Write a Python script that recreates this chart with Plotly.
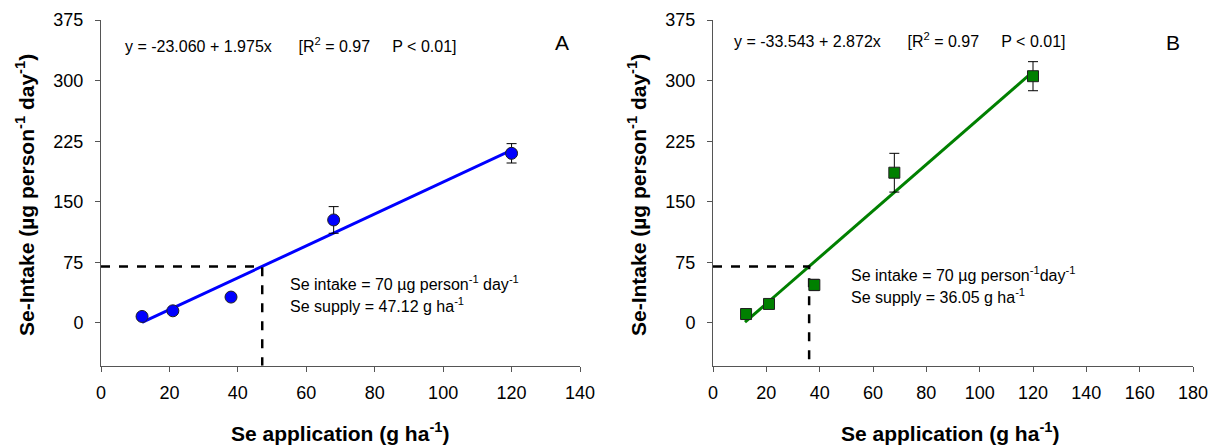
import plotly.graph_objects as go

# Panel A data
xA = [12, 21, 38, 68, 120]
yA = [8, 15, 32, 127.5, 210]
eA = [3, 3, 3, 16.5, 12]
# Panel B data
xB = [12.4, 21, 38, 68, 120]
yB = [11, 23.5, 47, 186, 305.5]
eB = [4, 4, 7, 24, 18]

# regressions
intA, slopeA = -23.060, 1.975
intB, slopeB = -33.543, 2.872
fit_x = [12, 120]
target = 70
supplyA = 47.12
supplyB = 36.05

ymin, ymax = -53, 375
yticks = [0, 75, 150, 225, 300, 375]

FONT = "Liberation Sans, Arial, sans-serif"
fig = go.Figure()

# Panel A
fig.add_trace(go.Scatter(x=fit_x, y=[intA + slopeA * v for v in fit_x], mode="lines",
                         line=dict(color="#0000FF", width=3), xaxis="x", yaxis="y", showlegend=False))
fig.add_trace(go.Scatter(x=[0, supplyA, supplyA], y=[target, target, ymin], mode="lines",
                         line=dict(color="black", width=2.5, dash="dash"), xaxis="x", yaxis="y", showlegend=False))
fig.add_trace(go.Scatter(x=xA, y=yA, mode="markers",
                         error_y=dict(type="data", array=eA, color="black", thickness=1, width=5),
                         marker=dict(symbol="circle", size=12, color="#0000FF", line=dict(color="#202020", width=1)),
                         xaxis="x", yaxis="y", showlegend=False))

# Panel B
fig.add_trace(go.Scatter(x=fit_x, y=[intB + slopeB * v for v in fit_x], mode="lines",
                         line=dict(color="#008000", width=3), xaxis="x2", yaxis="y2", showlegend=False))
fig.add_trace(go.Scatter(x=[0, supplyB, supplyB], y=[target, target, ymin], mode="lines",
                         line=dict(color="black", width=2.5, dash="dash"), xaxis="x2", yaxis="y2", showlegend=False))
fig.add_trace(go.Scatter(x=xB, y=yB, mode="markers",
                         error_y=dict(type="data", array=eB, color="black", thickness=1, width=5),
                         marker=dict(symbol="square", size=11, color="#008000", line=dict(color="#202020", width=1)),
                         xaxis="x2", yaxis="y2", showlegend=False))

axis_common = dict(showgrid=False, zeroline=False, showline=True, linecolor="#555555", linewidth=1,
                   ticks="outside", ticklen=5, tickcolor="#555555", automargin=False,
                   tickfont=dict(family=FONT, size=18, color="black"))

fig.update_layout(
    width=1222, height=446, autosize=False,
    margin=dict(l=0, r=0, t=0, b=0, pad=0),
    plot_bgcolor="white", paper_bgcolor="white",
    xaxis=dict(domain=[101 / 1222, 580 / 1222], range=[0, 140], tickvals=list(range(0, 141, 20)),
               anchor="y", ticklabelstandoff=6, **axis_common),
    yaxis=dict(domain=[0.18, 0.955], range=[ymin, ymax], tickvals=yticks, anchor="x",
               ticklabelstandoff=8, **axis_common),
    xaxis2=dict(domain=[713 / 1222, 1193 / 1222], range=[0, 180], tickvals=list(range(0, 181, 20)),
                anchor="y2", ticklabelstandoff=6, **axis_common),
    yaxis2=dict(domain=[0.18, 0.955], range=[ymin, ymax], tickvals=yticks, anchor="x2",
                ticklabelstandoff=8, **axis_common),
)

sp = "\u00a0"
ann = []
def txt(x, y, text, size=16, xanchor="left"):
    ann.append(dict(x=x / 1222, y=1 - y / 446, text=text, xref="paper", yref="paper", showarrow=False,
                    xanchor=xanchor, yanchor="middle", font=dict(family=FONT, size=size, color="black")))

txt(123, 45, f"y = -23.060 + 1.975x{sp*6}[R<sup>2</sup> = 0.97{sp*5}P < 0.01]")
txt(562, 42, "A", size=21, xanchor="center")
txt(288, 283, "Se intake = 70 µg person<sup>-1</sup> day<sup>-1</sup>")
txt(288, 305, "Se supply = 47.12 g ha<sup>-1</sup>")

txt(732, 40, f"y = -33.543 + 2.872x{sp*6}[R<sup>2</sup> = 0.97{sp*5}P < 0.01]")
txt(1173, 42, "B", size=21, xanchor="center")
txt(849, 274, "Se intake = 70 µg person<sup>-1</sup>day<sup>-1</sup>")
txt(849, 296, "Se supply = 36.05 g ha<sup>-1</sup>")

# axis titles
for cx in (340, 950):
    ann.append(dict(x=cx / 1222, y=1 - 432 / 446, xref="paper", yref="paper", showarrow=False,
                    text="<b>Se application (g ha<sup>-1</sup>)</b>", xanchor="center", yanchor="middle",
                    font=dict(family=FONT, size=21, color="black")))
for cx in (25, 637):
    ann.append(dict(x=cx / 1222, y=1 - 195 / 446, xref="paper", yref="paper", showarrow=False,
                    text="<b>Se-Intake (µg person<sup>-1</sup> day<sup>-1</sup>)</b>", textangle=-90,
                    xanchor="center", yanchor="middle", font=dict(family=FONT, size=21, color="black")))

fig.update_layout(annotations=ann)
fig.write_html("out.html")
